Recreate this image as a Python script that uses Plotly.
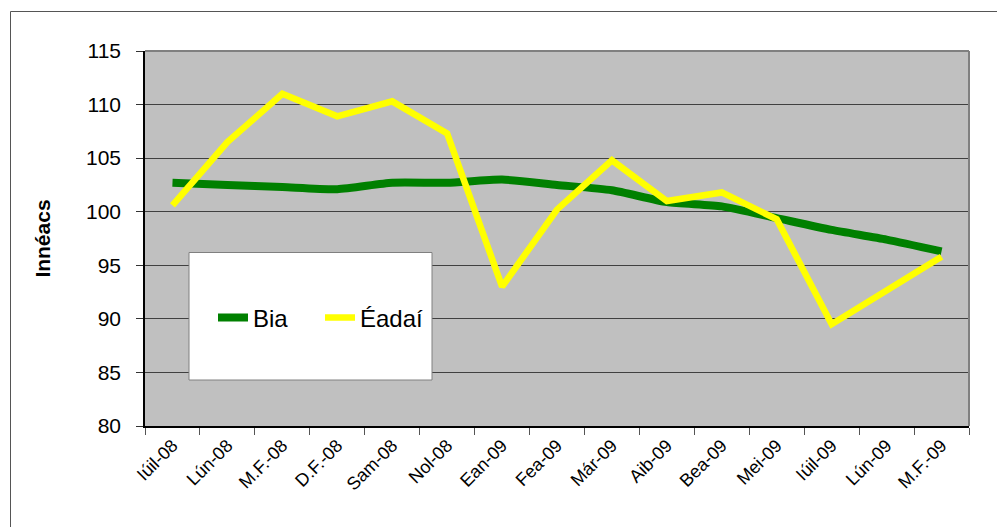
import plotly.graph_objects as go

categories = ["Iúil-08", "Lún-08", "M.F.-08", "D.F.-08", "Sam-08", "Nol-08", "Ean-09",
              "Fea-09", "Már-09", "Aib-09", "Bea-09", "Mei-09", "Iúil-09", "Lún-09", "M.F.-09"]
bia = [102.7, 102.5, 102.3, 102.1, 102.7, 102.7, 103.0, 102.5, 102.0, 100.9, 100.5, 99.4, 98.3, 97.4, 96.3]
eadai = [100.6, 106.5, 111.0, 108.9, 110.3, 107.3, 93.0, 100.2, 104.8, 101.0, 101.8, 99.3, 89.5, 92.6, 95.8]
y_ticks = [80, 85, 90, 95, 100, 105, 110, 115]

OFF = 8  # page body margin
W, H = 1005 - OFF, 527 - OFF
# plot area in page pixels: x 145..969, y 51..426
L, T = 145 - OFF, 51 - OFF
R = W - (969 - OFF)
B = H - (426 - OFF)
pw, ph = W - L - R, H - T - B

def px(x):
    return (x - OFF - L) / pw

def py(y):
    return (H - B - (y - OFF)) / ph

FONT = "Liberation Sans, Arial, sans-serif"

fig = go.Figure()
fig.add_trace(go.Scatter(x=categories, y=bia, name="Bia", mode="lines", legend="legend",
                         line=dict(color="#008000", width=8, shape="spline", smoothing=0.6)))
fig.add_trace(go.Scatter(x=categories, y=eadai, name="Éadaí", mode="lines", legend="legend2",
                         line=dict(color="#FFFF00", width=6.5)))

shapes = [
    # outer chart border
    dict(type="rect", xref="paper", yref="paper", x0=px(10.5), x1=px(1030), y0=py(545), y1=py(11.5),
         line=dict(color="#555555", width=1), fillcolor="rgba(0,0,0,0)", layer="above"),
    # plot area top/right border
    dict(type="line", xref="paper", yref="paper", x0=0, x1=1, y0=1, y1=1,
         line=dict(color="#808080", width=2), layer="above"),
    dict(type="line", xref="paper", yref="paper", x0=1, x1=1, y0=0, y1=1,
         line=dict(color="#808080", width=2), layer="above"),
    # legend box
    dict(type="rect", xref="paper", yref="paper", x0=px(189), x1=px(432), y0=py(380), y1=py(252.5),
         line=dict(color="#808080", width=1), fillcolor="white", layer="above"),
]

leg_common = dict(orientation="h", xanchor="left", yanchor="middle",
                  bgcolor="rgba(0,0,0,0)", borderwidth=0, font=dict(size=24, family=FONT),
                  itemwidth=30)

fig.update_layout(
    width=W, height=H,
    margin=dict(l=L, r=R, t=T, b=B),
    paper_bgcolor="white",
    plot_bgcolor="#C0C0C0",
    font=dict(family=FONT, color="black"),
    shapes=shapes,
    showlegend=True,
    legend=dict(x=px(213), y=py(318), **leg_common),
    legend2=dict(x=px(320), y=py(318), **leg_common),
    xaxis=dict(
        type="category", categoryorder="array", categoryarray=categories,
        showgrid=False, showline=True, linecolor="black", linewidth=2,
        ticks="outside", tickson="boundaries", ticklen=7, tickcolor="#555555", tickwidth=1,
        tickangle=-45, tickfont=dict(size=18, family=FONT), zeroline=False,
        range=[-0.5, len(categories) - 0.5],
    ),
    yaxis=dict(
        range=[80, 115], tickvals=y_ticks, ticktext=[str(v) for v in y_ticks],
        showgrid=True, gridcolor="#404040", gridwidth=1,
        showline=True, linecolor="black", linewidth=1.5,
        ticks="outside", ticklen=7, tickcolor="#333333", tickwidth=1,
        ticklabelstandoff=11,
        tickfont=dict(size=21, family=FONT), zeroline=False,
        title=dict(text="<b>Innéacs</b>", font=dict(size=21, family=FONT), standoff=30),
    ),
)

fig.write_html("out.html")
